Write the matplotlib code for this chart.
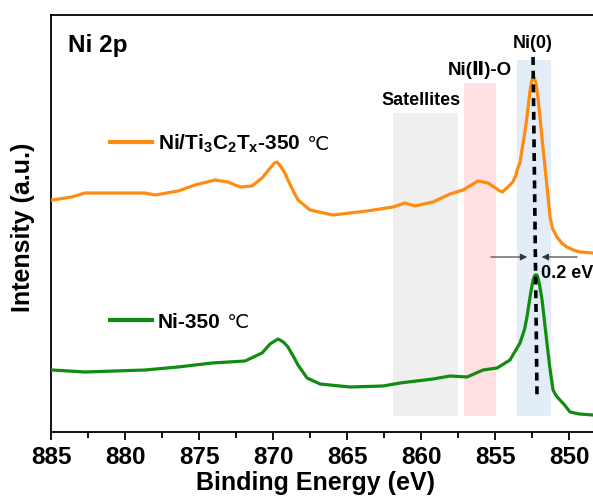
import matplotlib.pyplot as plt
from matplotlib.ticker import MultipleLocator

plt.rcParams['font.family'] = ['Liberation Sans', 'DejaVu Sans']
plt.rcParams['mathtext.default'] = 'regular'

# Ni/Ti3C2Tx-350 C spectrum
be_nitc = [884.93, 883.6, 882.70, 878.65, 877.97, 876.42, 875.27, 873.92, 873.04, 872.23,
           871.42, 870.74, 870.3, 869.9, 869.73, 869.5, 869.2, 868.99, 868.6, 868.31,
           867.50, 865.95, 863.65, 861.89, 861.08, 860.41, 859.19, 858.04, 857.16, 856.15,
           855.47, 854.66, 854.5, 854.2, 853.8, 853.6, 853.5, 853.3, 853.18, 853.0,
           852.84, 852.7, 852.6, 852.5, 852.43, 852.35, 852.23, 852.1, 851.96, 851.8,
           851.62, 851.45, 851.28, 851.1, 850.81, 850.5, 850.14, 849.7, 849.26, 848.38]
int_nitc = [232, 235, 239, 239, 237, 241, 247, 252, 250, 245,
            246, 254, 262, 269, 270, 266, 259, 252, 240, 232,
            222, 217, 221, 225, 229, 226, 230, 238, 242, 251,
            249, 241, 240, 244, 250, 256, 262, 270, 282, 298,
            315, 333, 345, 352, 355, 354, 349, 335, 315, 290,
            265, 240, 215, 203, 195, 189, 185, 182, 180, 179]

# Ni-350 C spectrum
be_ni = [884.93, 882.70, 878.65, 876.42, 874.12, 871.89, 870.74, 870.2, 869.66, 869.3,
         868.99, 868.6, 868.31, 867.70, 866.82, 864.80, 862.57, 861.42, 859.19, 858.04,
         856.89, 855.81, 854.86, 853.99, 853.31, 853.0, 852.84, 852.6, 852.43, 852.3,
         852.16, 852.0, 851.82, 851.65, 851.49, 851.3, 851.08, 850.85, 850.61, 850.3,
         849.93, 849.3, 848.38]
int_ni = [62, 60, 62, 65, 69, 71, 79, 88, 93, 90,
          85, 75, 67, 54, 48, 45, 46, 49, 53, 56,
          55, 62, 64, 72, 89, 103, 115, 138, 152, 157,
          157, 148, 132, 110, 89, 65, 42, 36, 32, 27,
          20, 18, 17]

# shaded regions: (low BE, high BE, top)
bands = [(857.5, 861.9, 319, '#efefef'),
         (854.9, 857.1, 349, '#ffe1e4'),
         (851.2, 853.5, 372, '#e2edf8')]

fig = plt.figure(figsize=(5.93, 4.97), dpi=100)
ax = fig.add_axes([51 / 593, 65 / 497, 592 / 593, 417 / 497])

for lo, hi, top, c in bands:
    ax.fill_between([hi, lo], 16, top, color=c, lw=0, zorder=0)

orange = '#ff8c0f'
green = '#118c11'
ax.plot(be_nitc, int_nitc, color=orange, lw=2.3, zorder=3)
ax.plot(be_ni, int_ni, color=green, lw=2.3, zorder=3)

# peak position line
ax.plot([852.43, 852.16], [375, 35], color='black', lw=2.6, ls=(0, (2.2, 1.6)), zorder=4)

# 0.2 eV shift arrows
ax.annotate('', xy=(852.64, 175), xytext=(855.47, 175),
            arrowprops=dict(arrowstyle='-|>', color='#333333', lw=0.8, mutation_scale=10))
ax.annotate('', xy=(852.03, 175), xytext=(849.26, 175),
            arrowprops=dict(arrowstyle='-|>', color='#333333', lw=0.8, mutation_scale=10))
ax.text(851.89, 154, '0.2 eV', fontsize=13, fontweight='bold', ha='left', va='baseline')

ax.text(883.85, 380, 'Ni 2p', fontsize=17.5, fontweight='bold', ha='left', va='baseline')
ax.text(860.0, 327, 'Satellites', fontsize=13, fontweight='bold', ha='center', va='baseline')
ax.text(856.0, 357, 'Ni(Ⅱ)-O', fontsize=13.5, fontweight='bold', ha='center', va='baseline')
ax.text(852.43, 384, 'Ni(0)', fontsize=13, fontweight='bold', ha='center', va='baseline')

# legend-like labels
ax.plot([881.01, 878.18], [290, 290], color=orange, lw=3)
t1 = ax.text(877.77, 282, 'Ni/Ti$_3$C$_2$T$_x$-350', fontsize=15, fontweight='bold',
             ha='left', va='baseline')
ax.annotate(' ℃', xy=(1, 0.5), xycoords=t1, fontsize=14, ha='left', va='center',
            family='DejaVu Sans')
ax.plot([881.01, 878.18], [112, 112], color=green, lw=3)
t2 = ax.text(877.77, 104, 'Ni-350', fontsize=15, fontweight='bold', ha='left', va='baseline')
ax.annotate(' ℃', xy=(1, 0.5), xycoords=t2, fontsize=14, ha='left', va='center',
            family='DejaVu Sans')

ax.set_xlim(885, 845)
ax.set_ylim(0, 417)
ax.set_xticks([885, 880, 875, 870, 865, 860, 855, 850])
ax.xaxis.set_minor_locator(MultipleLocator(2.5))
ax.tick_params(axis='x', which='major', direction='out', length=6, width=1.3,
               labelsize=17.5, pad=4)
ax.tick_params(axis='x', which='minor', direction='out', length=4, width=1.3)
for lab in ax.get_xticklabels():
    lab.set_fontweight('bold')
ax.set_yticks([])
for s in ax.spines.values():
    s.set_linewidth(1.3)

fig.text(315 / 593, 7 / 497, 'Binding Energy (eV)', fontsize=18, fontweight='bold',
         ha='center', va='baseline')
fig.text(30 / 593, 270 / 497, 'Intensity (a.u.)', fontsize=18, fontweight='bold',
         rotation=90, rotation_mode='anchor', ha='center', va='baseline')

fig.savefig('out.png', dpi=100)
